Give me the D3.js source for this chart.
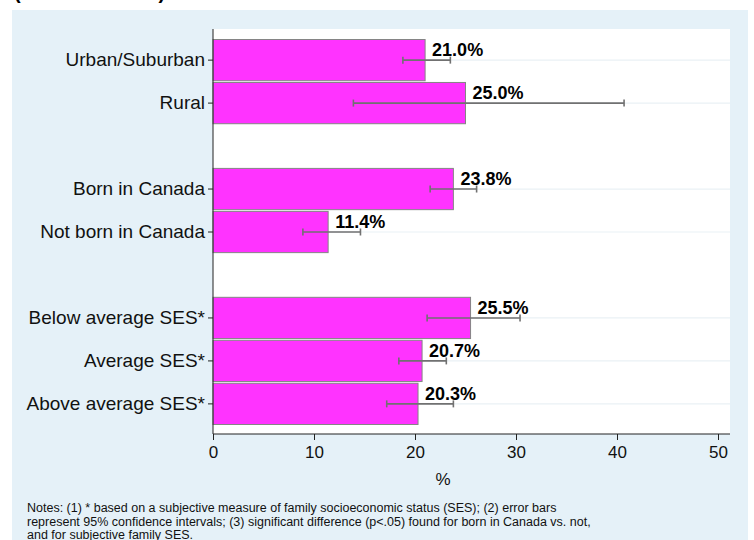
<!DOCTYPE html>
<html>
<head>
<meta charset="utf-8">
<script src="https://cdn.jsdelivr.net/npm/d3@7"></script>
<style>
  body { margin: 0; background: #fff; }
  text { font-family: "Liberation Sans", Arial, Helvetica, sans-serif; }
</style>
</head>
<body>
<div id="chart"></div>
<script>
// categories ('' marks a spacer row between groups)
const categories = ['Urban/Suburban', 'Rural', '', 'Born in Canada', 'Not born in Canada', '',
  'Below average SES*', 'Average SES*', 'Above average SES*'];
const values = [21.0, 25.0, null, 23.8, 11.4, null, 25.5, 20.7, 20.3];
const ciLow = [18.8, 13.9, null, 21.5, 8.9, null, 21.2, 18.4, 17.2];
const ciHigh = [23.5, 40.7, null, 26.1, 14.6, null, 30.4, 23.1, 23.8];
const xTicks = [0, 10, 20, 30, 40, 50];
const notes = [
  'Notes: (1) * based on a subjective measure of family socioeconomic status (SES); (2) error bars',
  'represent 95% confidence intervals; (3) significant difference (p<.05) found for born in Canada vs. not,',
  'and for subjective family SES.'
];

const W = 754, H = 540;
const margin = { top: 29, left: 213 };
const plotW = 517, plotH = 405;

const svg = d3.select('#chart').append('svg')
  .attr('width', W).attr('height', H);

// outer light blue panel
svg.append('rect').attr('x', 12).attr('y', 10).attr('width', 736).attr('height', H - 10)
  .attr('fill', '#e5f1f8');

// title (cut off at top)
svg.append('text').attr('x', 14).attr('y', -1)
  .attr('font-size', '20px').attr('font-weight', 'bold')
  .text('(Grades 7 to 12)');

const g = svg.append('g').attr('transform', `translate(${margin.left},${margin.top})`);

g.append('rect').attr('width', plotW).attr('height', plotH).attr('fill', '#fff');

const x = d3.scaleLinear().domain([0, 50]).range([0, 505]);
const y = d3.scaleBand()
  .domain(categories.map((d, i) => i))
  .range([10.5, 395.5])
  .paddingInner(0.04);

const rows = categories.map((c, i) => ({
  i, label: c, value: values[i], lo: ciLow[i], hi: ciHigh[i]
})).filter(d => d.value !== null);

// grid lines at each category
g.append('g').selectAll('line').data(rows).enter().append('line')
  .attr('x1', 0).attr('x2', plotW)
  .attr('y1', d => y(d.i) + y.bandwidth() / 2)
  .attr('y2', d => y(d.i) + y.bandwidth() / 2)
  .attr('stroke', '#eaf1f5').attr('stroke-width', 1.2);

// bars
g.append('g').selectAll('rect').data(rows).enter().append('rect')
  .attr('x', x(0))
  .attr('y', d => y(d.i))
  .attr('width', d => x(d.value) - x(0))
  .attr('height', y.bandwidth())
  .attr('fill', '#ff33ff')
  .attr('stroke', '#858585').attr('stroke-width', 1);

// error bars
const eb = g.append('g').attr('stroke', '#717171').attr('stroke-width', 1.6);
rows.forEach(d => {
  const cy = y(d.i) + y.bandwidth() / 2;
  eb.append('line').attr('x1', x(d.lo)).attr('x2', x(d.hi)).attr('y1', cy).attr('y2', cy);
  eb.append('line').attr('x1', x(d.lo)).attr('x2', x(d.lo)).attr('y1', cy - 3.5).attr('y2', cy + 3.5);
  eb.append('line').attr('x1', x(d.hi)).attr('x2', x(d.hi)).attr('y1', cy - 3.5).attr('y2', cy + 3.5);
});

// value labels
g.append('g').selectAll('text').data(rows).enter().append('text')
  .attr('x', d => x(d.value) + 7)
  .attr('y', d => y(d.i) + y.bandwidth() / 2 - 4)
  .attr('font-size', '18px').attr('font-weight', 'bold')
  .text(d => d.value.toFixed(1) + '%');

// y axis
const yAxis = g.append('g')
  .call(d3.axisLeft(y).tickSize(5).tickPadding(3).tickSizeOuter(0)
    .tickValues(rows.map(d => d.i))
    .tickFormat(i => categories[i]));
yAxis.select('.domain').attr('d', `M0,0V${plotH}`).attr('stroke', '#222');
yAxis.selectAll('.tick line').attr('stroke', '#222');
yAxis.selectAll('text').attr('font-size', '19px').attr('fill', '#111')
  .attr('font-family', '"Liberation Sans", Arial, sans-serif');

// x axis
const xAxis = g.append('g').attr('transform', `translate(0,${plotH})`)
  .call(d3.axisBottom(x).tickValues(xTicks).tickSize(6).tickPadding(6).tickSizeOuter(0));
xAxis.select('.domain').attr('d', `M0,0H${plotW}`).attr('stroke', '#222');
xAxis.selectAll('.tick line').attr('stroke', '#222');
xAxis.selectAll('text').attr('font-size', '17px').attr('fill', '#111')
  .attr('font-family', '"Liberation Sans", Arial, sans-serif');

// x axis title
svg.append('text').attr('x', 443).attr('y', margin.top + plotH + 51)
  .attr('text-anchor', 'middle').attr('font-size', '17px').attr('fill', '#111')
  .text('%');

// notes
svg.append('g').selectAll('text').data(notes).enter().append('text')
  .attr('x', 27).attr('y', (d, i) => 512 + i * 13.5)
  .attr('font-size', '12.5px').attr('fill', '#111')
  .text(d => d);
</script>
</body>
</html>
